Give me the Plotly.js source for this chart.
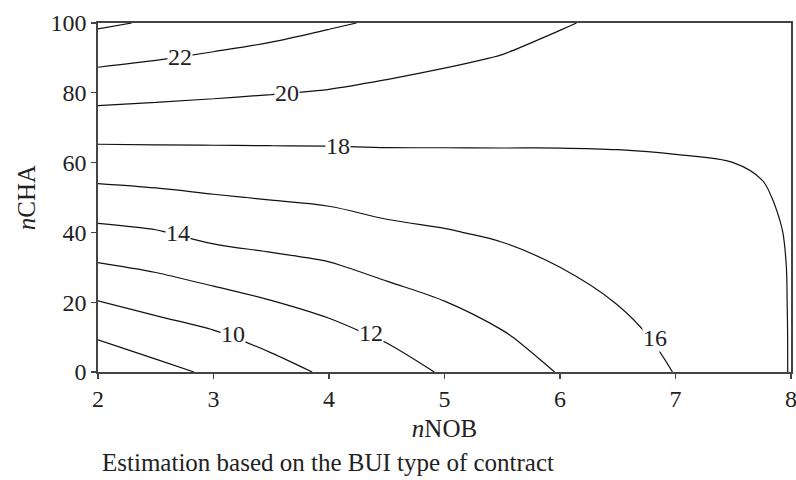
<!DOCTYPE html>
<html>
<head>
<meta charset="utf-8">
<script src="https://cdn.plot.ly/plotly-3.0.1.min.js"></script>
<style>html,body{margin:0;padding:0;background:#fff;}#chart{width:796px;height:480px;}</style>
</head>
<body>
<div id="chart"></div>
<script>
// nNOB grid values
var nNOB = [2, 2.5, 3, 3.5, 4, 4.5, 5, 5.5, 6, 6.5, 7, 7.5, 7.75, 7.9, 8];
// nCHA grid values
var nCHA = [0, 10, 20, 30, 40, 50, 60, 70, 80, 90, 100];
// estimated values (rows = nCHA, columns = nNOB)
var estimate = [
  [6.34, 7.41, 8.30, 9.27, 10.30, 11.08, 12.20, 13.04, 14.10, 15.10, 16.05, 17.00, 17.50, 17.75, 18.10],
  [8.14, 9.01, 9.69, 10.60, 11.38, 12.19, 13.09, 13.84, 14.73, 15.57, 16.36, 17.10, 17.55, 17.78, 18.09],
  [9.93, 10.62, 11.23, 11.93, 12.53, 13.30, 13.97, 14.64, 15.37, 16.04, 16.67, 17.20, 17.60, 17.80, 18.10],
  [11.76, 12.24, 12.91, 13.41, 13.80, 14.46, 14.94, 15.44, 16.00, 16.49, 16.98, 17.30, 17.65, 17.85, 18.10],
  [13.55, 13.87, 14.53, 14.79, 15.07, 15.62, 15.90, 16.22, 16.58, 16.94, 17.29, 17.45, 17.75, 17.95, 18.12],
  [15.30, 15.56, 15.87, 16.10, 16.31, 16.63, 16.77, 16.96, 17.17, 17.38, 17.60, 17.68, 17.90, 18.08, 18.20],
  [17.06, 17.17, 17.27, 17.36, 17.44, 17.58, 17.63, 17.69, 17.75, 17.83, 17.92, 18.00, 18.10, 18.20, 18.30],
  [18.85, 18.80, 18.74, 18.68, 18.63, 18.56, 18.50, 18.43, 18.35, 18.29, 18.26, 18.30, 18.32, 18.35, 18.40],
  [20.66, 20.46, 20.26, 20.07, 19.88, 19.59, 19.38, 19.18, 18.95, 18.76, 18.64, 18.58, 18.55, 18.55, 18.60],
  [22.49, 22.12, 21.74, 21.40, 21.09, 20.67, 20.26, 19.93, 19.55, 19.23, 19.02, 18.89, 18.80, 18.75, 18.80],
  [24.31, 23.78, 23.21, 22.73, 22.20, 21.78, 21.13, 20.67, 20.12, 19.70, 19.40, 19.20, 19.10, 19.00, 19.00]
];
// contour labels shown in the figure
var labelLevels = [22, 20, 18, 14, 10, 12, 16];
var labelX = [2.71, 3.64, 4.08, 2.69, 3.17, 4.36, 6.82];
var labelY = [90.3, 80.0, 64.8, 39.8, 10.9, 11.2, 9.7];
var xTicks = [2, 3, 4, 5, 6, 7, 8];
var yTicks = [0, 20, 40, 60, 80, 100];
var caption = "Estimation based on the BUI type of contract";

var serif = "Liberation Serif, Times New Roman, serif";
var tickSize = 24, titleSize = 25;

var trace = {
  type: 'contour',
  x: nNOB, y: nCHA, z: estimate,
  autocontour: false,
  contours: {start: 8, end: 24, size: 2, coloring: 'none', showlabels: false},
  line: {color: '#111', width: 1.2, smoothing: 1},
  showscale: false,
  hoverinfo: 'skip'
};

var annotations = labelLevels.map(function (lv, i) {
  return {
    x: labelX[i], y: labelY[i], xref: 'x', yref: 'y',
    text: String(lv), showarrow: false,
    bgcolor: '#fff', borderpad: 0,
    font: {family: serif, size: tickSize, color: '#222'}
  };
});
annotations.push({
  xref: 'paper', yref: 'paper', x: 0.003, y: -0.258,
  xanchor: 'left', yanchor: 'middle', showarrow: false,
  text: caption, font: {family: serif, size: titleSize, color: '#222'}
});

var layout = {
  width: 796, height: 480,
  margin: {l: 98, r: 5, t: 23, b: 108},
  paper_bgcolor: '#fff', plot_bgcolor: '#fff',
  showlegend: false,
  font: {family: serif, size: tickSize, color: '#222'},
  xaxis: {
    range: [2, 8], tickvals: xTicks, ticks: 'outside', ticklen: 5, tickwidth: 1.3,
    tickcolor: '#444', showline: true, linecolor: '#444', linewidth: 1.6, mirror: true,
    showgrid: false, zeroline: false, ticklabeloverflow: 'allow',
    tickfont: {family: serif, size: tickSize, color: '#222'},
    title: {text: '<i>n</i>NOB', font: {family: serif, size: titleSize, color: '#222'}, standoff: 8}
  },
  yaxis: {
    range: [0, 100], tickvals: yTicks, ticks: 'outside', ticklen: 5, tickwidth: 1.3,
    tickcolor: '#444', showline: true, linecolor: '#444', linewidth: 1.6, mirror: true,
    showgrid: false, zeroline: false, ticklabeloverflow: 'allow',
    tickfont: {family: serif, size: tickSize, color: '#222'},
    title: {text: '<i>n</i>CHA', font: {family: serif, size: titleSize, color: '#222'}, standoff: 8}
  },
  annotations: annotations
};

Plotly.newPlot('chart', [trace], layout, {staticPlot: true, displayModeBar: false});
</script>
</body>
</html>
